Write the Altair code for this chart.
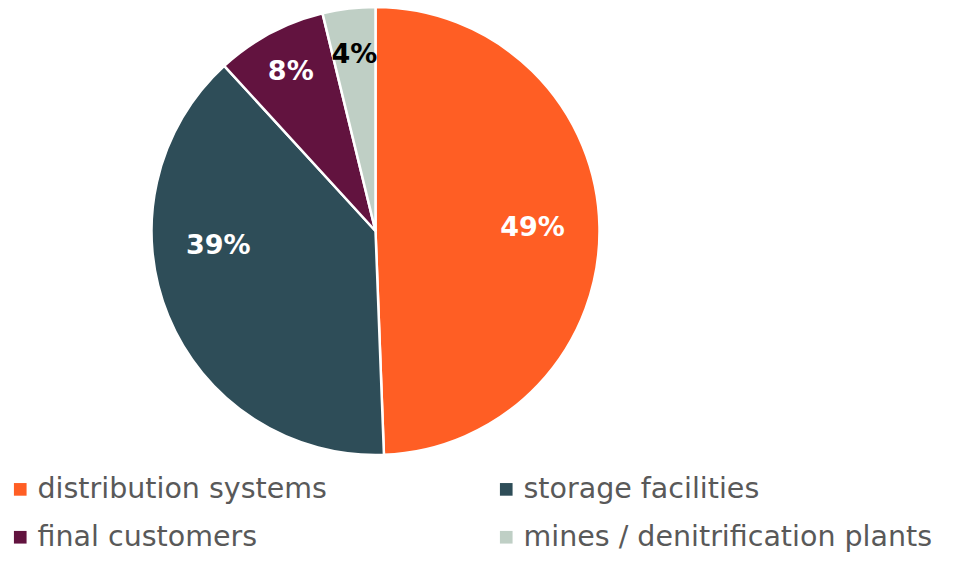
import altair as alt
import pandas as pd

categories = ["distribution systems", "storage facilities", "final customers", "mines / denitrification plants"]
values = [49.4, 38.8, 8.0, 3.8]
labels = ["49%", "39%", "8%", "4%"]
colors = ["#FF5E24", "#2E4D58", "#62133F", "#BFCFC5"]

df = pd.DataFrame({"category": categories, "value": values, "label": labels, "idx": list(range(len(categories)))})
total = float(sum(values))

W, H = 945, 545
CX, CY = 367.5, 223
R = 224

color_scale = alt.Scale(domain=categories, range=colors)
theta_scale = alt.Scale(domain=[0, total], range=[0, 6.283185307179586])

base = alt.Chart(df).transform_window(
    cum="sum(value)", sort=[alt.SortField("idx")], frame=[None, 0]
).transform_calculate(
    start="datum.cum - datum.value", mid="datum.cum - datum.value / 2"
)

pie = base.mark_arc(outerRadius=R, stroke="white", strokeWidth=2.5, x=CX, y=CY).encode(
    theta=alt.Theta("start:Q", scale=theta_scale, stack=None),
    theta2="cum:Q",
    color=alt.Color(
        "category:N",
        scale=color_scale,
        sort=categories,
        legend=alt.Legend(
            title=None,
            orient="none",
            legendX=-2,
            legendY=467,
            columns=2,
            direction="horizontal",
            symbolType="square",
            symbolSize=160,
            symbolStrokeWidth=0,
            labelFont="DejaVu Sans",
            labelFontSize=28.5,
            labelColor="#595959",
            labelOffset=3,
            labelLimit=600,
            columnPadding=165,
            rowPadding=19,
            padding=0,
        ),
    ),
)

txt_props = dict(font="DejaVu Sans", fontWeight="bold", fontSize=27, x=CX, y=CY, align="center", baseline="middle")
tb = base.encode(theta=alt.Theta("mid:Q", scale=theta_scale, stack=None), text="label:N")

t_orange = tb.mark_text(radius=157, color="white", **txt_props).transform_filter(alt.datum.idx == 0)
t_teal = tb.mark_text(radius=158, thetaOffset=0.295, color="white", **txt_props).transform_filter(alt.datum.idx == 1)
t_purple = tb.mark_text(radius=180, color="white", **txt_props).transform_filter(alt.datum.idx == 2)
t_mines = tb.mark_text(radius=177, color="black", **txt_props).transform_filter(alt.datum.idx == 3)

chart = alt.layer(pie, t_orange, t_teal, t_purple, t_mines).properties(
    width=W, height=H, autosize=alt.AutoSizeParams(type="none"), padding=0
).configure_view(stroke=None)

chart.save("out.html", embed_options={"renderer": "svg", "actions": False})
